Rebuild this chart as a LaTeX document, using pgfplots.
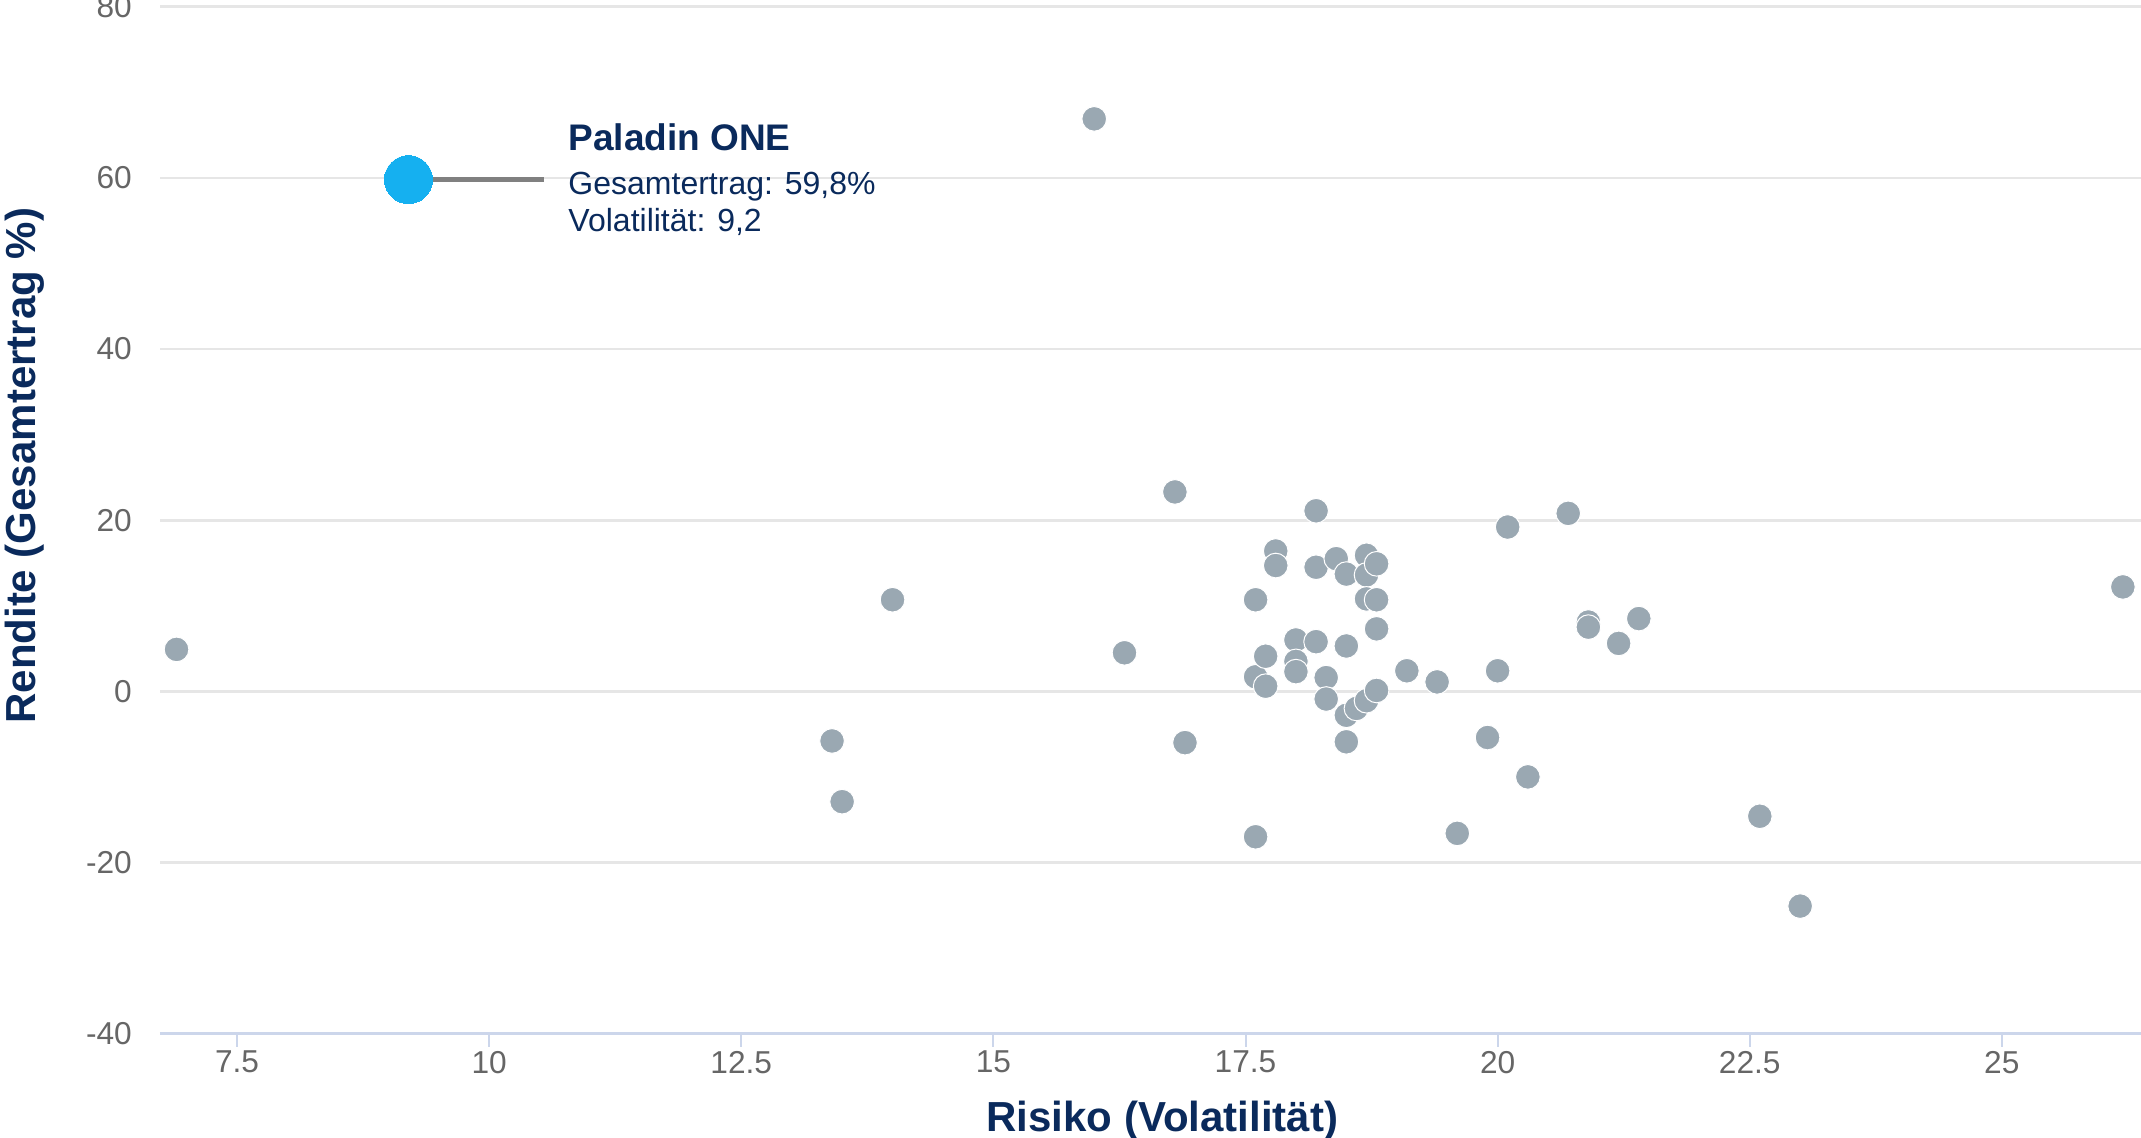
\documentclass[border=0pt]{standalone}
\usepackage{pgfplots}
\pgfplotsset{compat=1.18}
\usepackage{fontspec}
\setmainfont{Liberation Sans}
\definecolor{navy}{HTML}{0A2A5C}
\definecolor{ptgray}{HTML}{9AA8B2}
\definecolor{hlblue}{HTML}{15B0F0}
\definecolor{gridgray}{HTML}{E6E6E6}
\definecolor{axisblue}{HTML}{CCD6EB}
\definecolor{ticktext}{HTML}{666666}
\definecolor{linegray}{HTML}{808080}
\begin{document}
\begin{tikzpicture}
\begin{axis}[
  at={(0,0)}, anchor=south west,
  scale only axis,
  width=594.3pt, height=308.04pt,
  xmin=6.736, xmax=26.38,
  ymin=-40, ymax=80,
  xtick={7.5,10,12.5,15,17.5,20,22.5,25},
  ytick={-40,-20,0,20,40,60,80},
  axis x line*=bottom, axis y line*=left,
  x axis line style={draw=axisblue, line width=0.9pt, -},
  y axis line style={draw=none},
  ymajorgrids,
  grid style={draw=gridgray, line width=0.8pt},
  tick align=outside,
  xtick style={draw=axisblue, line width=0.6pt},
  major tick length=4pt,
  ytick style={draw=none},
  /pgf/number format/assume math mode=true,
  xticklabel style={font=\fontsize{9.5}{11}\selectfont, text=ticktext, anchor=north, inner sep=0pt, yshift=-1pt},
  yticklabel style={font=\fontsize{9.5}{11}\selectfont, text=ticktext, anchor=east, inner sep=0pt, xshift=-4.25pt},
  xlabel={Risiko (Volatilität)},
  ylabel={Rendite (Gesamtertrag \%)},
  xlabel style={font=\fontsize{12.6}{14}\selectfont\bfseries, text=navy, at={(axis description cs:0.506,-0.0851)}, anchor=center},
  ylabel style={font=\fontsize{12.6}{14}\selectfont\bfseries, text=navy, at={(axis description cs:-0.0685,0.553)}, anchor=center, rotate=0},
  clip=false,
]
\addplot[only marks, mark=*, mark size=3.7pt, color=white, mark options={fill=ptgray, draw=white, line width=0.3pt}] coordinates {
(6.9,4.9) (13.4,-5.8) (13.5,-12.9) (14.0,10.7) (16.0,66.9) (16.3,4.5)
(16.8,23.3) (16.9,-6.0) (17.6,10.7) (17.6,1.7) (17.6,-17.0) (17.7,4.1)
(17.7,0.6) (17.8,16.4) (17.8,14.7) (18.0,6.0) (18.0,3.5) (18.0,2.3)
(18.2,21.1) (18.2,14.5) (18.2,5.8) (18.3,1.6) (18.3,-0.9) (18.4,15.5)
(18.5,13.7) (18.5,5.3) (18.5,-2.8) (18.5,-5.9) (18.6,-2.0) (18.7,15.9)
(18.7,13.6) (18.7,10.8) (18.7,-1.1) (18.8,14.9) (18.8,10.7) (18.8,7.3)
(18.8,0.1) (19.1,2.4) (19.4,1.1) (19.6,-16.6) (19.9,-5.4) (20.0,2.4)
(20.1,19.2) (20.3,-10.0) (20.7,20.8) (20.9,8.1) (20.9,7.5) (21.2,5.6)
(21.4,8.5) (22.6,-14.6) (23.0,-25.1) (26.2,12.2)
};
\addplot[draw=linegray, line width=1.5pt, no marks] coordinates {(9.2,59.8) (10.54,59.8)};
\addplot[only marks, mark=*, mark size=7.2pt, color=hlblue, mark options={fill=hlblue, draw=hlblue, line width=0pt}] coordinates {(9.2,59.8)};
\node[anchor=west, align=left, text=navy, inner sep=0pt, font=\fontsize{9.6}{11.1}\selectfont] at (axis cs:10.78,59.8)
  {{\fontsize{11.1}{13}\selectfont\bfseries Paladin ONE}\\[2pt]Gesamtertrag: 59,8\%\\Volatilität: 9,2};
\end{axis}
\pgfresetboundingbox
\path[use as bounding box] (-48pt,-31.32pt) rectangle (594.3pt,310.08pt);
\end{tikzpicture}
\end{document}
